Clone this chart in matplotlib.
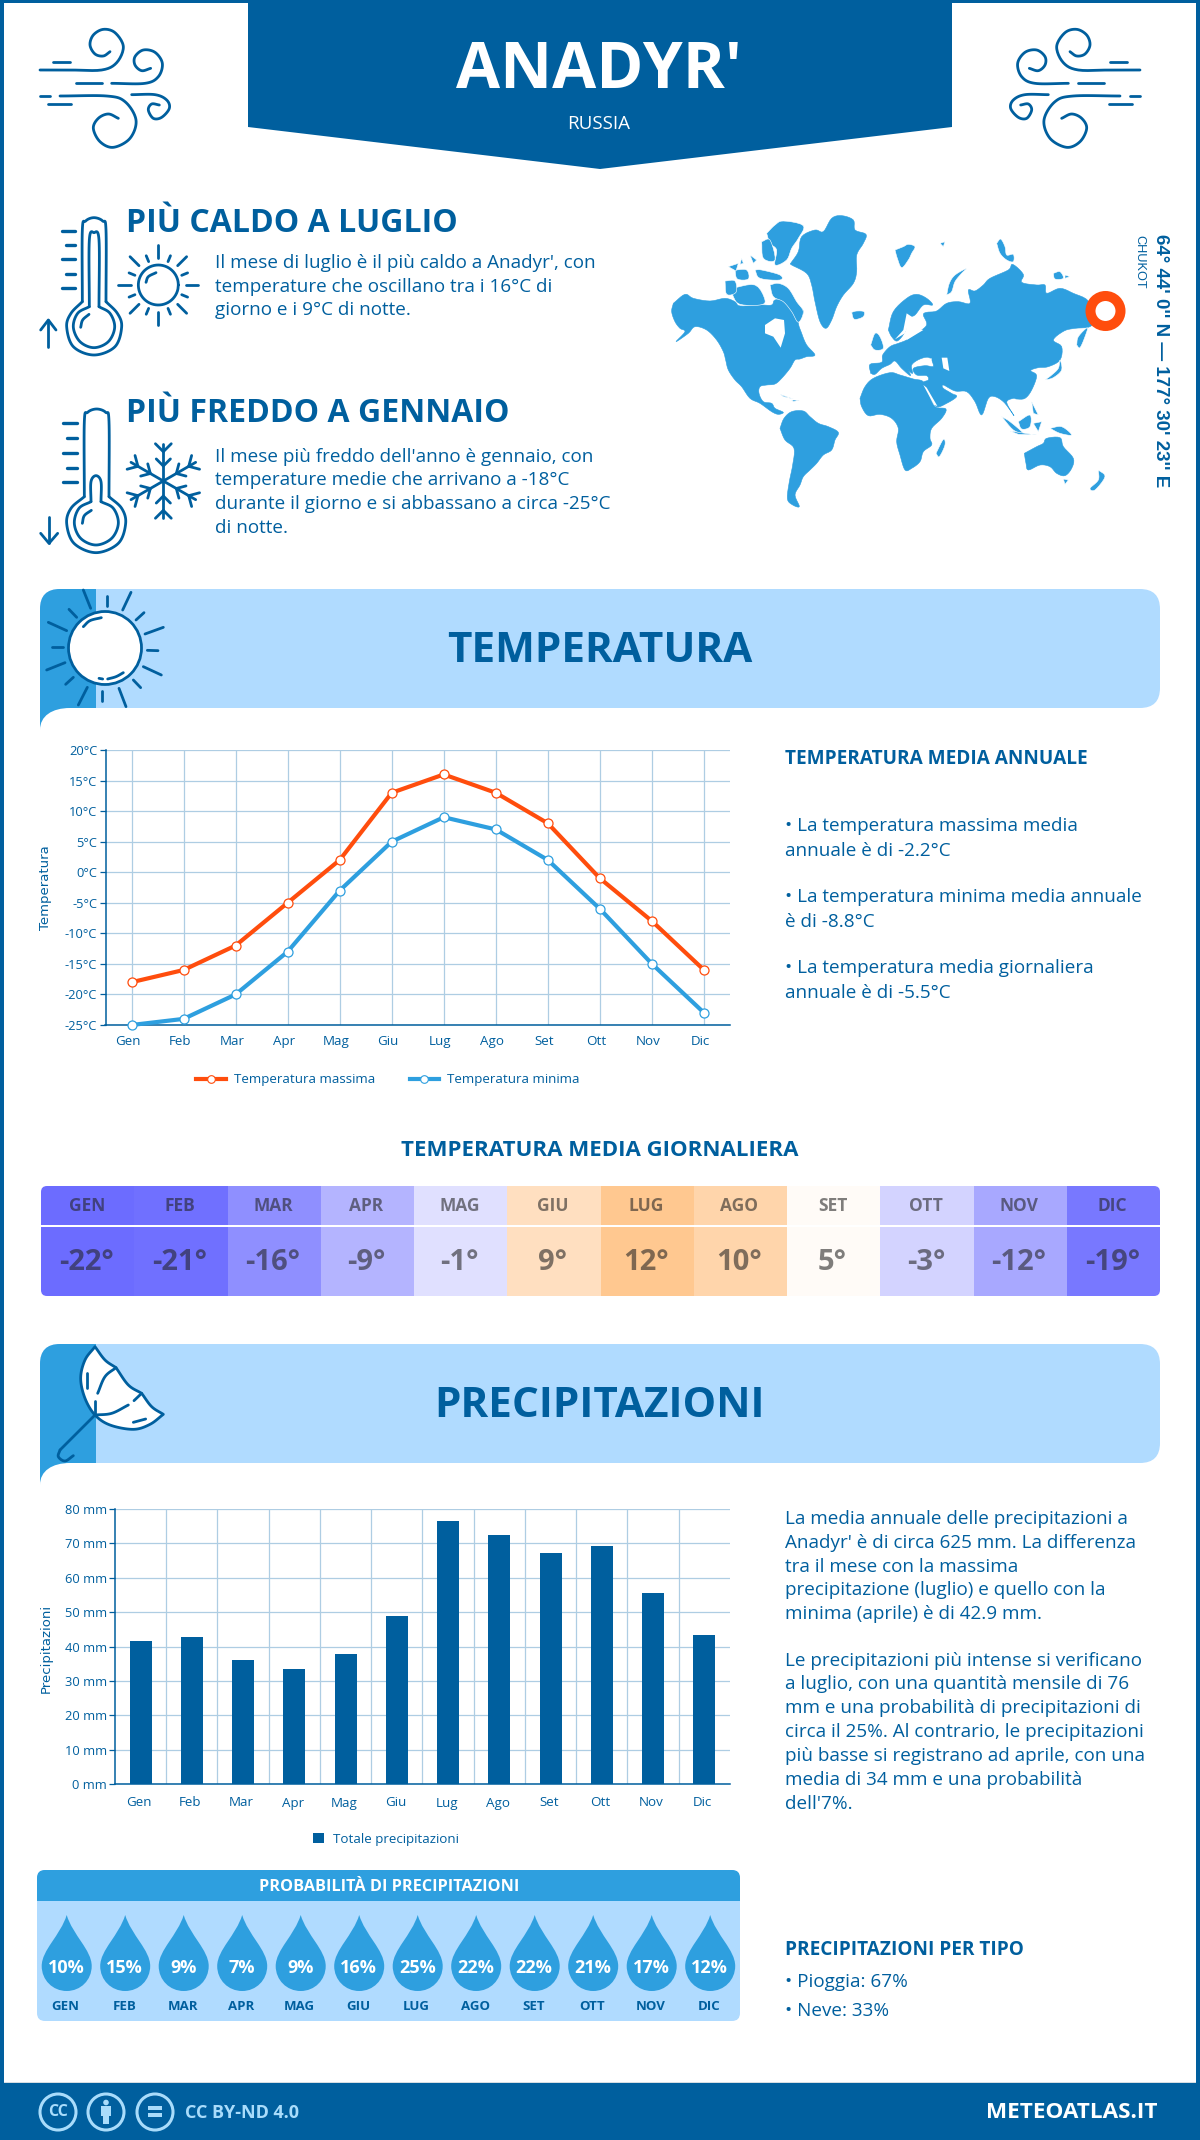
import numpy as np
import matplotlib
matplotlib.use("Agg")
import matplotlib.pyplot as plt
from matplotlib.patches import FancyBboxPatch, Polygon, Rectangle, Circle, PathPatch
from matplotlib.path import Path
from matplotlib.lines import Line2D
from matplotlib.transforms import ScaledTranslation

plt.rcParams['font.family'] = ['Open Sans', 'DejaVu Sans']

DARK, MID, LIGHT, ORANGE = '#005f9e', '#2e9fdf', '#b0dbff', '#ff4d0d'
GRID = '#aecde3'

months = ['Gen', 'Feb', 'Mar', 'Apr', 'Mag', 'Giu', 'Lug', 'Ago', 'Set', 'Ott', 'Nov', 'Dic']
temp_max = [-18, -16, -12, -5, 2, 13, 16, 13, 8, -1, -8, -16]
temp_min = [-25, -24, -20, -13, -3, 5, 9, 7, 2, -6, -15, -23]
temp_avg = [-22, -21, -16, -9, -1, 9, 12, 10, 5, -3, -12, -19]
temp_cols = ['#6c6cff', '#7070ff', '#8f8fff', '#b4b4ff', '#e0e0ff', '#ffdfc0',
             '#ffc890', '#ffd5ab', '#fffbf7', '#d3d3ff', '#a8a8ff', '#7878ff']
rain = [41.6, 42.8, 36.1, 33.5, 37.8, 48.9, 76.6, 72.5, 67.2, 69.3, 55.6, 43.3]
rain_prob = [10, 15, 9, 7, 9, 16, 25, 22, 22, 21, 17, 12]

fig = plt.figure(figsize=(12, 21.4), dpi=100, facecolor='white')
bg = fig.add_axes([0, 0, 1, 1])
bg.set_xlim(0, 1200); bg.set_ylim(2140, 0); bg.axis('off')


def T(x, y, s, size, color=DARK, weight='normal', ha='left', va='center', **kw):
    return bg.text(x, y + 2, s, fontsize=size, color=color, fontweight=weight, ha=ha, va=va, **kw)


def smooth(pts, n=12):
    p = np.array(pts, float)
    p = np.vstack([2 * p[0] - p[1], p, 2 * p[-1] - p[-2]])
    out = []
    for i in range(1, len(p) - 2):
        for t in np.linspace(0, 1, n, endpoint=False):
            a, b, c, d = p[i - 1], p[i], p[i + 1], p[i + 2]
            out.append(0.5 * (2 * b + (c - a) * t + (2 * a - 5 * b + 4 * c - d) * t ** 2 + (3 * b - a - 3 * c + d) * t ** 3))
    out.append(p[-2])
    return np.array(out)


def stroke(pts, ox, oy, s=3.0, mirror=None, curve=True, lw=2.0, color=DARK, z=5):
    a = smooth(pts) if curve else np.array(pts, float)
    x = ox + a[:, 0] / s
    y = oy + a[:, 1] / s
    if mirror is not None:
        x = mirror - x
    bg.plot(x, y, color=color, lw=lw, solid_capstyle='round', solid_joinstyle='round', zorder=z)


# ---------- frame and header ----------
bg.add_patch(Rectangle((0, 0), 4, 2140, color=DARK, lw=0))
bg.add_patch(Rectangle((1196, 0), 4, 2140, color=DARK, lw=0))
bg.add_patch(Rectangle((0, 0), 1200, 3, color=DARK, lw=0))
bg.add_patch(Polygon([(248, 0), (952, 0), (952, 127), (600, 169), (248, 127)], color=DARK, lw=0))
T(599, 69, "ANADYR'", 46, 'white', 'bold', ha='center')
T(599, 122, 'RUSSIA', 13.5, 'white', ha='center')

wind_curves = [
    [(30, 150), (120, 150), (215, 150), (260, 128), (280, 80), (255, 38), (220, 28), (190, 45), (180, 75), (195, 102), (220, 108), (240, 95)],
    [(245, 190), (345, 190), (385, 170), (397, 130), (375, 97), (340, 90), (315, 110), (315, 135), (335, 152), (362, 145)],
    [(90, 228), (230, 228), (285, 245), (318, 300), (300, 355), (250, 382), (210, 365), (190, 325), (205, 295), (235, 282), (265, 295)],
    [(305, 224), (375, 224), (410, 240), (418, 265), (395, 292), (370, 295), (355, 270), (365, 252), (388, 255)],
]
wind_lines = [[(68, 125), (120, 125)], [(138, 190), (216, 190)], [(30, 228), (60, 228)], [(55, 252), (124, 252)]]
for m in (None, 1180):
    for c in wind_curves:
        stroke(c, 30, 20, mirror=m)
    for c in wind_lines:
        stroke(c, 30, 20, mirror=m, curve=False)

# ---------- hot / cold blocks ----------
T(126, 221, 'PIÙ CALDO A LUGLIO', 23, DARK, 'bold')
for y, s in zip([261, 285, 308], ["Il mese di luglio è il più caldo a Anadyr', con",
                                  'temperature che oscillano tra i 16°C di', 'giorno e i 9°C di notte.']):
    T(215, y, s, 13.55)
T(126, 412, 'PIÙ FREDDO A GENNAIO', 23, DARK, 'bold')
for y, s in zip([455, 478, 502, 526], ["Il mese più freddo dell'anno è gennaio, con",
                                       'temperature medie che arrivano a -18°C',
                                       'durante il giorno e si abbassano a circa -25°C', 'di notte.']):
    T(215, y, s, 13.55)

OX, OY = 30, 205
stroke([(157, 290), (157, 75), (167, 48), (192, 38), (218, 48), (228, 75), (228, 290)], OX, OY)
stroke([(228, 290), (262, 325), (275, 365), (255, 425), (192, 450), (130, 425), (110, 365), (123, 325), (157, 290)], OX, OY)
stroke([(207, 305), (207, 105), (192, 83), (178, 105), (178, 305)], OX, OY)
stroke([(207, 305), (240, 325), (254, 367), (235, 410), (192, 428), (150, 410), (130, 367), (143, 325), (178, 305)], OX, OY)
stroke([(152, 367), (158, 345), (177, 328)], OX, OY)
for y, x0 in zip([77, 120, 163, 206, 248], [97, 107, 97, 107, 97]):
    stroke([(x0, y), (135, y)], OX, OY, curve=False, lw=2.4)
stroke([(55, 425), (55, 345)], OX, OY, curve=False)
stroke([(32, 375), (55, 345), (78, 375)], OX, OY, curve=False)

cx, cy = 385, 240
stroke(np.c_[cx + 60 * np.cos(np.linspace(0, 2 * np.pi, 40)), cy + 60 * np.sin(np.linspace(0, 2 * np.pi, 40))], OX, OY)
stroke([(348, 232), (355, 215), (378, 203)], OX, OY)
for k in range(8):
    a = k * np.pi / 4
    stroke([(cx + 82 * np.cos(a), cy + 82 * np.sin(a)), (cx + 120 * np.cos(a), cy + 120 * np.sin(a))], OX, OY, curve=False)
    a += np.pi / 8
    stroke([(cx + 76 * np.cos(a), cy + 76 * np.sin(a)), (cx + 95 * np.cos(a), cy + 95 * np.sin(a))], OX, OY, curve=False)

stroke([(163, 875), (163, 650), (173, 622), (200, 612), (227, 622), (237, 650), (237, 875)], OX, OY)
stroke([(237, 875), (275, 910), (287, 955), (265, 1015), (198, 1043), (132, 1015), (110, 955), (123, 910), (163, 875)], OX, OY)
stroke([(213, 890), (213, 830), (198, 812), (183, 830), (183, 890)], OX, OY)
stroke([(213, 890), (250, 910), (265, 955), (245, 1000), (198, 1020), (152, 1000), (133, 955), (147, 910), (183, 890)], OX, OY)
stroke([(157, 955), (163, 932), (184, 916)], OX, OY)
for y, x0 in zip([655, 700, 744, 788, 832], [100, 110, 100, 110, 100]):
    stroke([(x0, y), (140, y)], OX, OY, curve=False, lw=2.4)
stroke([(57, 935), (57, 1015)], OX, OY, curve=False)
stroke([(32, 985), (57, 1015), (83, 985)], OX, OY, curve=False)

cx, cy = 400, 828
for k in range(6):
    a = np.pi / 2 + k * np.pi / 3
    u = np.array([np.cos(a), np.sin(a)])
    stroke([(cx, cy), (cx + 112 * u[0], cy + 112 * u[1])], OX, OY, curve=False)
    for r, w in ((45, 25), (88, 28)):
        for sg in (-1, 1):
            b = a + sg * np.pi / 4
            p = (cx + r * u[0], cy + r * u[1])
            stroke([p, (p[0] + w * np.cos(b) * 1.2, p[1] + w * np.sin(b) * 1.2)], OX, OY, curve=False)

# ---------- world map (decorative outline) ----------
mainlands = [
    # North America
    [(40, 295), (75, 268), (100, 280), (150, 288), (195, 280), (225, 290), (240, 303), (300, 300), (335, 300), (345, 285), (380, 285), (410, 300), (430, 320), (415, 350), (425, 385), (440, 420), (465, 450), (440, 455), (420, 462), (405, 465), (390, 490), (365, 520), (345, 537), (320, 540), (300, 545), (297, 565), (310, 590), (335, 595), (345, 610), (370, 622), (355, 628), (335, 620), (300, 595), (270, 580), (245, 545), (225, 525), (205, 495), (197, 465), (190, 440), (170, 405), (140, 375), (105, 365), (85, 385), (48, 410), (75, 380), (60, 370), (45, 350), (35, 320)],
    # Greenland
    [(392, 175), (415, 140), (425, 95), (465, 75), (490, 80), (515, 40), (545, 32), (580, 45), (585, 75), (618, 88), (610, 115), (590, 150), (590, 200), (580, 235), (550, 270), (530, 305), (515, 345), (498, 370), (480, 350), (465, 290), (455, 240), (440, 205), (395, 180)],
    # South America
    [(360, 670), (372, 640), (395, 620), (430, 618), (450, 635), (475, 655), (505, 665), (535, 682), (525, 705), (515, 735), (490, 750), (470, 775), (450, 795), (430, 815), (420, 840), (405, 870), (418, 905), (395, 898), (382, 880), (388, 830), (398, 780), (402, 730), (375, 705)],
    # Africa
    [(600, 580), (615, 545), (640, 520), (690, 503), (720, 510), (760, 522), (790, 530), (805, 565), (825, 605), (858, 612), (845, 640), (815, 670), (810, 700), (815, 720), (790, 740), (780, 770), (755, 790), (735, 795), (720, 750), (710, 710), (715, 670), (695, 640), (660, 628), (625, 632), (605, 605)],
    # Eurasia
    [(632, 505), (630, 478), (665, 472), (668, 450), (690, 425), (715, 415), (740, 405), (770, 385), (800, 360), (790, 330), (800, 322), (830, 318), (860, 295), (895, 290), (930, 295), (925, 255), (945, 258), (970, 240), (990, 220), (1045, 195), (1058, 178), (1090, 208), (1085, 232), (1130, 240), (1155, 240), (1160, 265), (1200, 250), (1240, 265), (1285, 288), (1300, 340), (1290, 365), (1245, 370), (1212, 378), (1180, 405), (1205, 425), (1200, 465), (1165, 485), (1135, 488), (1112, 497), (1130, 512), (1115, 555), (1095, 580), (1070, 582), (1060, 580), (1040, 592), (1062, 632), (1050, 615), (1030, 590), (1005, 575), (985, 580), (965, 630), (945, 590), (920, 560), (885, 558), (850, 540), (850, 550), (875, 565), (890, 575), (860, 595), (830, 605), (810, 575), (790, 535), (805, 525), (800, 512), (770, 510), (760, 490), (795, 482), (820, 484), (808, 458), (780, 462), (755, 480), (758, 505), (745, 495), (735, 478), (752, 512), (725, 490), (705, 468), (690, 478), (665, 490), (645, 508)],
    # Scandinavia
    [(685, 375), (700, 320), (740, 280), (770, 268), (800, 280), (818, 300), (790, 300), (765, 330), (745, 340), (735, 380), (712, 408), (695, 395)],
    # Australia
    [(1093, 745), (1130, 725), (1150, 715), (1160, 700), (1200, 698), (1210, 725), (1240, 760), (1235, 790), (1215, 812), (1190, 805), (1170, 785), (1140, 780), (1105, 795), (1098, 775)],
]
islands = [
    [(330, 240), (355, 235), (385, 250), (410, 290), (430, 320), (415, 352), (395, 320), (370, 290), (340, 275)],
    [(215, 250), (285, 240), (315, 285), (300, 300), (240, 298), (220, 275)],
    [(195, 228), (225, 228), (228, 262), (200, 268)],
    [(320, 85), (345, 60), (370, 48), (430, 62), (415, 100), (395, 130), (380, 165), (345, 180), (350, 135), (330, 115)],
    [(305, 110), (330, 105), (345, 165), (310, 160)],
    [(225, 195), (260, 195), (265, 222), (232, 222)],
    [(205, 185), (235, 175), (228, 198)],
    [(285, 195), (305, 195), (360, 210), (360, 225), (300, 220)],
    [(245, 160), (250, 175), (240, 178)],
    [(270, 150), (290, 165), (280, 175)],
    [(360, 568), (400, 582), (370, 575)],
    [(395, 585), (418, 585), (400, 590)],
    [(575, 322), (590, 318), (612, 320), (610, 335), (590, 343), (580, 340)],
    [(705, 135), (730, 125), (745, 118), (765, 125), (755, 145), (745, 165), (725, 188), (712, 160)],
    [(860, 270), (868, 235), (885, 210), (920, 190), (905, 205), (885, 230), (875, 260)],
    [(1010, 115), (1022, 102), (1035, 125), (1040, 150), (1060, 148), (1060, 170), (1040, 165), (1020, 145)],
    [(1180, 205), (1200, 200), (1210, 220), (1185, 222)],
    [(1215, 210), (1230, 215), (1215, 220)],
    [(840, 115), (855, 110), (850, 125)],
    [(632, 420), (645, 385), (660, 395), (670, 430), (645, 435)],
    [(1155, 525), (1175, 510), (1195, 490), (1200, 465), (1205, 495), (1180, 518)],
    [(1250, 420), (1255, 395), (1282, 368), (1275, 395), (1260, 428)],
    [(1115, 590), (1135, 630), (1120, 625)],
    [(1025, 635), (1050, 650), (1090, 685), (1060, 675)],
    [(1075, 650), (1110, 630), (1110, 665), (1085, 672)],
    [(1170, 670), (1205, 665), (1235, 690), (1200, 685)],
    [(1050, 678), (1130, 690), (1075, 688)],
    [(1120, 655), (1145, 650), (1135, 680)],
    [(1315, 795), (1335, 815), (1305, 855), (1290, 850), (1315, 825)],
    [(1210, 822), (1225, 825), (1215, 838)],
    [(828, 745), (850, 703), (855, 720), (838, 755)],
]
seas = [
    [(315, 360), (345, 340), (372, 345), (375, 385), (362, 428), (340, 395), (315, 385)],
    [(740, 325), (755, 335), (735, 385), (705, 403), (730, 375)],
    [(770, 370), (790, 375), (740, 405), (745, 385)],
    [(790, 462), (815, 460), (815, 478), (785, 480)],
    [(845, 458), (862, 458), (868, 498), (850, 490)],
    [(790, 540), (800, 548), (832, 603), (822, 600)],
    [(850, 540), (885, 570), (870, 560)],
]


def to_px(poly, smooth_it=True):
    a = smooth(list(poly) + [poly[0]], 5) if smooth_it else np.array(poly, float)
    return np.c_[660 + a[:, 0] / 3, 205 + a[:, 1] / 3]


for poly in mainlands:
    bg.add_patch(Polygon(to_px(poly), closed=True, fc=MID, ec=MID, lw=0.4, zorder=2))
for poly in seas:
    bg.add_patch(Polygon(to_px(poly, False), closed=True, fc='white', ec='none', zorder=3))
for poly in islands:
    bg.add_patch(Polygon(to_px(poly, len(poly) > 3), closed=True, fc=MID, ec='white', lw=0.4, zorder=3))
bg.add_patch(Circle((1105.5, 311), 15, fc='white', ec=ORANGE, lw=7.2, zorder=4))
T(1160, 359, "64° 44' 0'' N — 177° 30' 23'' E", 13.5, DARK, 'bold', ha='center', rotation=270,
  family='Liberation Sans')
T(1139, 233, 'CHUKOT', 9.2, DARK, ha='center', va='top', rotation=270, family='Liberation Sans')


# ---------- section banners ----------
def banner(y0, y1, title):
    r = 20
    bg.add_patch(FancyBboxPatch((40 + r, y0 + r), 1120 - 2 * r, y1 - y0 - 2 * r, boxstyle=f'round,pad={r},rounding_size={r}',
                                fc=LIGHT, ec='none', zorder=1))
    v = [(96, y0), (60, y0), (40, y0), (40, y0 + 20), (40, y1 + 22), (40, y1 + 8), (52, y1), (70, y1), (96, y1), (96, y0)]
    c = [Path.MOVETO, Path.LINETO, Path.CURVE3, Path.CURVE3, Path.LINETO, Path.CURVE4, Path.CURVE4, Path.CURVE4, Path.LINETO, Path.CLOSEPOLY]
    bg.add_patch(PathPatch(Path(v, c), fc=MID, ec='none', zorder=2))
    T(600, (y0 + y1) / 2 + 1, title, 30.4, DARK, 'bold', ha='center')


banner(589, 708, 'TEMPERATURA')
banner(1344, 1463, 'PRECIPITAZIONI')

OX, OY = 30, 580
bg.add_patch(Circle((105, 648), 36.5, fc='white', ec=DARK, lw=2.0, zorder=4))
rays = [[(160, 30), (182, 85)], [(230, 48), (230, 78)], [(303, 37), (278, 90)], [(342, 98), (318, 120)],
        [(400, 142), (345, 162)], [(352, 211), (384, 212)], [(340, 260), (394, 285)], [(310, 300), (332, 323)],
        [(267, 325), (288, 380)], [(217, 333), (217, 363)], [(172, 322), (145, 375)], [(130, 292), (107, 313)],
        [(105, 248), (50, 270)], [(66, 200), (98, 200)], [(55, 127), (110, 152)], [(117, 88), (140, 112)]]
for r in rays:
    stroke(r, OX, OY, curve=False)
stroke([(160, 140), (180, 122), (214, 113)], OX, OY)
stroke([(207, 295), (218, 297)], OX, OY, curve=False)
stroke([(233, 297), (258, 290), (280, 278)], OX, OY)

OX, OY = 30, 1335
canopy_parts = [[(195, 35), (165, 75), (152, 130), (165, 190), (195, 240), (240, 270), (310, 283), (360, 268), (400, 238)],
                [(400, 238), (365, 215), (335, 175)], [(335, 175), (295, 150), (258, 98)], [(258, 98), (225, 75), (195, 35)]]
a = np.vstack([smooth(p) for p in canopy_parts])
bg.add_patch(Polygon(np.c_[OX + a[:, 0] / 3, OY + a[:, 1] / 3], closed=True, fc='white', ec=DARK, lw=2.0, zorder=4, joinstyle='round'))
stroke([(258, 98), (225, 125), (203, 175)], OX, OY)
stroke([(195, 197), (195, 240)], OX, OY, curve=False)
stroke([(195, 240), (245, 235), (295, 210)], OX, OY)
stroke([(312, 197), (335, 175)], OX, OY, curve=False)
stroke([(172, 115), (172, 158)], OX, OY, curve=False)
stroke([(310, 262), (347, 252)], OX, OY, curve=False)
stroke([(195, 240), (90, 345)], OX, OY, curve=False)
stroke([(90, 345), (85, 365), (105, 378), (130, 362)], OX, OY)


# ---------- charts ----------
def chart_axes(x0, y0, x1, y1, pad, shift):
    ax = fig.add_axes([x0 / 1200, 1 - y1 / 2140, (x1 - x0) / 1200, (y1 - y0) / 2140])
    ax.patch.set_alpha(0)
    ax.set_axisbelow(True)
    for s in ('top', 'right'):
        ax.spines[s].set_visible(False)
    for s in ('left', 'bottom'):
        ax.spines[s].set_color(DARK)
        ax.spines[s].set_linewidth(1.1)
    ax.tick_params(axis='y', colors=DARK, labelsize=9.3, length=4, width=0.9, pad=2)
    ax.tick_params(axis='x', colors=DARK, labelsize=9.6, length=0, pad=pad)
    ax.set_xlim(-0.5, 11.5)
    ax.set_xticks(range(12)); ax.set_xticklabels(months)
    off = ScaledTranslation(shift / 100, 0, fig.dpi_scale_trans)
    for lab in ax.get_xticklabels():
        lab.set_transform(lab.get_transform() + off)
    return ax


ax = chart_axes(105.5, 750, 730, 1025, 7, -3.5)
ax.set_ylim(-25, 20)
ax.set_yticks(range(-25, 21, 5))
ax.set_yticklabels([f'{v}°C' for v in range(-25, 21, 5)])
ax.grid(True, color=GRID, lw=0.9)
ax.plot(range(12), temp_max, color=ORANGE, lw=3, marker='o', ms=6.5, mfc='white', mec=ORANGE, mew=0.9, clip_on=False, zorder=4)
ax.plot(range(12), temp_min, color=MID, lw=3, marker='o', ms=6.5, mfc='white', mec=MID, mew=0.9, clip_on=False, zorder=4)
T(46, 886, 'Temperatura', 9.5, DARK, ha='center', rotation=90, family='DejaVu Sans')
handles = [Line2D([], [], color=ORANGE, lw=3, marker='o', ms=5.5, mfc='white', mec=ORANGE, mew=0.8),
           Line2D([], [], color=MID, lw=3, marker='o', ms=5.5, mfc='white', mec=MID, mew=0.8)]
fig.legend(handles, ['Temperatura massima', 'Temperatura minima'], loc='center', bbox_to_anchor=(388 / 1200, 1 - 1080 / 2140),
           ncol=2, frameon=False, labelcolor=DARK, fontsize=9.6, handlelength=2.2, columnspacing=2.6, handletextpad=0.6)

T(785, 757, 'TEMPERATURA MEDIA ANNUALE', 13.7, DARK, 'bold')
for y, s in zip([824, 849, 895, 920, 966, 991],
                ['• La temperatura massima media', 'annuale è di -2.2°C', '• La temperatura minima media annuale',
                 'è di -8.8°C', '• La temperatura media giornaliera', 'annuale è di -5.5°C']):
    T(785, y, s, 13.55)

# ---------- daily mean table ----------
T(600, 1148, 'TEMPERATURA MEDIA GIORNALIERA', 16, DARK, 'bold', ha='center')
clip = FancyBboxPatch((47, 1192), 1107, 98, boxstyle='round,pad=6,rounding_size=6', fc='none', ec='none', transform=bg.transData)
bg.add_patch(clip)
cw = (1160 - 41) / 12
for i, (m, v, c) in enumerate(zip(months, temp_avg, temp_cols)):
    r = Rectangle((41 + i * cw, 1186), cw + 0.5, 110, fc=c, ec='none', zorder=1)
    bg.add_patch(r)
    r.set_clip_path(clip)
    xc = 41 + (i + 0.5) * cw
    T(xc - 1, 1204, m.upper(), 12.5, '#222222', 'bold', ha='center', alpha=0.58, zorder=3)
    T(xc - 1, 1260, f'{v}°', 21, '#222222', 'bold', ha='center', alpha=0.58, zorder=3)
bg.add_patch(Rectangle((41, 1224.5), 1119, 2, fc='white', ec='none', zorder=2))

ax = chart_axes(115, 1509, 730, 1784, 9, -1.5)
ax.set_ylim(0, 80)
ax.set_yticks(range(0, 81, 10))
ax.set_yticklabels([f'{v} mm' for v in range(0, 81, 10)])
ax.set_xticks(np.arange(0.5, 11, 1), minor=True)
ax.tick_params(axis='x', which='minor', length=0)
ax.grid(True, axis='y', color=GRID, lw=0.9)
ax.grid(True, axis='x', which='minor', color=GRID, lw=0.9)
ax.bar(range(12), rain, width=0.43, color=DARK, zorder=3)
T(46, 1646, 'Precipitazioni', 9.5, DARK, ha='center', rotation=90, family='DejaVu Sans')
fig.legend([Rectangle((0, 0), 1, 1, fc=DARK)], ['Totale precipitazioni'], loc='center', bbox_to_anchor=(386 / 1200, 1 - 1839 / 2140),
           frameon=False, labelcolor=DARK, fontsize=9.6, handlelength=0.8, handleheight=0.8, handletextpad=0.7)

rain_lines = [(1517, "La media annuale delle precipitazioni a"), (1541, "Anadyr' è di circa 625 mm. La differenza"),
              (1565, "tra il mese con la massima"), (1588, "precipitazione (luglio) e quello con la"),
              (1612, "minima (aprile) è di 42.9 mm."), (1659, "Le precipitazioni più intense si verificano"),
              (1682, "a luglio, con una quantità mensile di 76"), (1706, "mm e una probabilità di precipitazioni di"),
              (1730, "circa il 25%. Al contrario, le precipitazioni"), (1754, "più basse si registrano ad aprile, con una"),
              (1778, "media di 34 mm e una probabilità"), (1802, "dell'7%.")]
for y, s in rain_lines:
    T(785, y, s, 13.55)
T(785, 1948, 'PRECIPITAZIONI PER TIPO', 13.7, DARK, 'bold')
T(785, 1980, '• Pioggia: 67%', 13.55)
T(785, 2009, '• Neve: 33%', 13.55)

# ---------- probability panel ----------
bg.add_patch(FancyBboxPatch((45, 1878), 687, 135, boxstyle='round,pad=8,rounding_size=8', fc=LIGHT, ec='none', zorder=1))
v = [(37, 1901), (37, 1878), (37, 1870), (45, 1870), (732, 1870), (740, 1870), (740, 1878), (740, 1901), (37, 1901)]
c = [Path.MOVETO, Path.LINETO, Path.CURVE3, Path.CURVE3, Path.LINETO, Path.CURVE3, Path.CURVE3, Path.LINETO, Path.CLOSEPOLY]
bg.add_patch(PathPatch(Path(v, c), fc=MID, ec='none', zorder=2))
T(389, 1885, 'PROBABILITÀ DI PRECIPITAZIONI', 11.7, 'white', 'bold', ha='center')
for i, (m, p) in enumerate(zip(months, rain_prob)):
    cx = 66.7 + i * 58.5
    v = [(cx, 1915), (cx + 6, 1935), (cx + 25, 1950), (cx + 25, 1966), (cx + 25, 1980), (cx + 14, 1991), (cx, 1991),
         (cx - 14, 1991), (cx - 25, 1980), (cx - 25, 1966), (cx - 25, 1950), (cx - 6, 1935), (cx, 1915), (cx, 1915)]
    c = [Path.MOVETO] + [Path.CURVE4] * 12 + [Path.CLOSEPOLY]
    bg.add_patch(PathPatch(Path(v, c), fc=MID, ec='none', zorder=2))
    T(cx - 0.5, 1966, f'{p}%', 13, 'white', 'bold', ha='center', zorder=3)
    T(cx - 1, 2004, m.upper(), 9.5, DARK, 'bold', ha='center', zorder=3)

# ---------- footer ----------
bg.add_patch(Rectangle((0, 2083), 1200, 57, fc=DARK, ec='none', zorder=6))
bg.add_patch(Rectangle((4, 2081.5), 1192, 1.5, fc='#d5dde3', ec='none', zorder=6))
PALE = '#a9dcfb'
for x in (58, 106, 155):
    bg.add_patch(Circle((x, 2112), 18, fc='none', ec=PALE, lw=2.2, zorder=7))
T(58, 2110, 'CC', 11.5, PALE, 'bold', ha='center', zorder=7)
bg.add_patch(Circle((106, 2102.5), 2.8, fc=PALE, ec='none', zorder=7))
bg.add_patch(Rectangle((101, 2106), 10, 10, fc=PALE, ec='none', zorder=7))
bg.add_patch(Rectangle((103, 2116), 6, 8, fc=PALE, ec='none', zorder=7))
bg.add_patch(Rectangle((148, 2106), 14, 3.6, fc=PALE, ec='none', zorder=7))
bg.add_patch(Rectangle((148, 2113), 14, 3.6, fc=PALE, ec='none', zorder=7))
T(185, 2111, 'CC BY-ND 4.0', 13, PALE, 'bold', zorder=7)
T(1158, 2111, 'METEOATLAS.IT', 16.2, 'white', 'bold', ha='right', zorder=7)

fig.savefig('out.png', dpi=100)
